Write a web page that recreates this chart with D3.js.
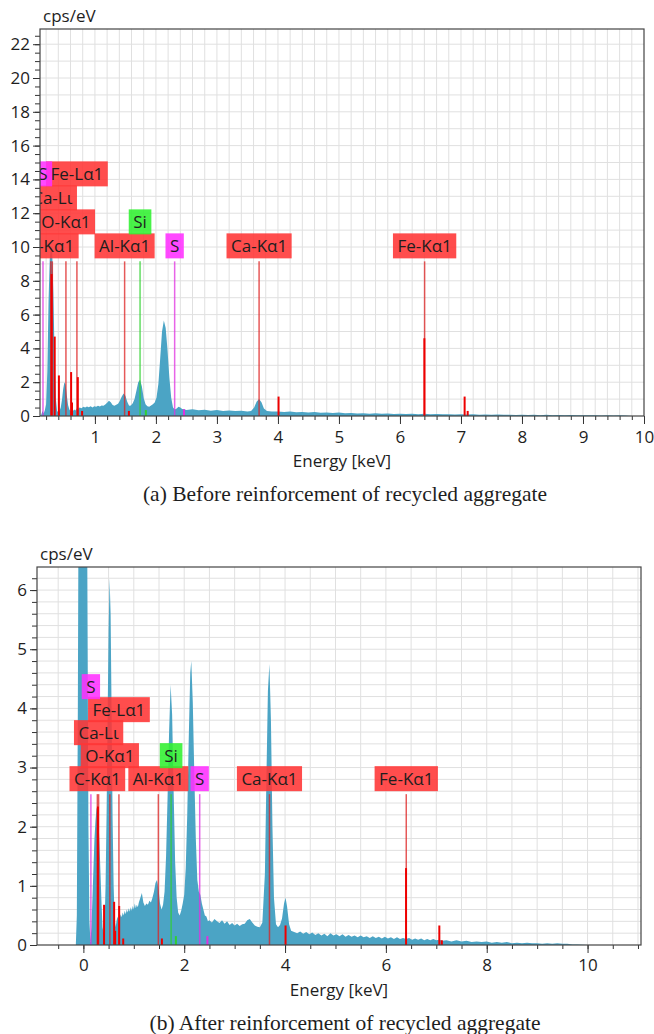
<!DOCTYPE html>
<html>
<head>
<meta charset="utf-8">
<script src="https://cdn.jsdelivr.net/npm/d3@7"></script>
<style>
body { margin: 0; background: #fff; }
svg text { font-family: "Open Sans", "DejaVu Sans", sans-serif; fill: #1e1e1e; }
.caption { font-family: "Liberation Serif", "Times New Roman", serif !important; }
</style>
</head>
<body>
<svg id="fig" width="654" height="1034"></svg>
<script>
// ---- panel (a): before reinforcement ----
const energyA = [0.10,0.12,0.14,0.16,0.18,0.20,0.22,0.24,0.26,0.28,0.30,0.32,0.34,0.36,0.38,0.40,0.42,0.44,0.46,0.48,
	0.50,0.52,0.54,0.56,0.58,0.60,0.62,0.64,0.66,0.68,0.70,0.72,0.75,0.78,0.81,0.84,0.87,0.90,0.93,0.96,0.99,
	1.02,1.05,1.08,1.11,1.14,1.17,1.20,1.23,1.26,1.29,1.32,1.35,1.38,1.41,1.44,1.47,1.50,1.53,1.56,1.59,1.62,
	1.65,1.68,1.71,1.74,1.77,1.80,1.83,1.86,1.89,1.92,1.95,1.98,2.01,2.04,2.07,2.10,2.13,2.16,2.19,2.22,2.25,
	2.28,2.31,2.34,2.37,2.40,2.43,2.46,2.50,2.6,2.7,2.8,2.9,3.0,3.1,3.2,3.3,3.4,3.5,3.56,3.61,3.65,3.69,3.73,
	3.77,3.82,3.9,4.0,4.1,4.2,4.3,4.4,4.5,4.6,4.7,4.8,4.9,5.0,5.1,5.2,5.3,5.4,5.5,5.6,5.7,5.8,5.9,6.0,6.1,6.2,
	6.3,6.4,6.5,6.6,6.7,6.8,6.9,7.0,7.1,7.2,7.3,7.4,7.5,7.6,7.7,7.8,7.9,8.0,8.1,8.2,8.3,8.4,8.5,8.6,8.7,8.8,
	8.9,9.0,9.1,9.2,9.3,9.4,9.5,9.6,9.7,9.75,9.8];
const cpsA = [0,0.08,0.3,0.15,0.35,0.7,2.6,6.8,9.3,10.1,9.7,7.2,3.3,1.0,0.3,0.22,0.3,0.5,0.95,1.6,
	2.0,1.85,1.2,0.65,0.4,0.28,0.35,0.3,0.38,0.33,0.45,0.42,0.5,0.46,0.55,0.5,0.56,0.52,0.58,0.5,0.57,
	0.55,0.6,0.56,0.62,0.6,0.68,0.78,0.9,0.82,0.65,0.6,0.66,0.72,0.9,1.15,1.33,1.2,0.85,0.6,0.62,0.75,
	1.0,1.5,2.0,2.15,1.75,1.05,0.7,0.58,0.55,0.62,0.7,0.8,1.1,1.9,3.4,5.0,5.65,5.2,3.9,2.3,1.1,
	0.5,0.38,0.45,0.55,0.5,0.42,0.4,0.36,0.4,0.34,0.37,0.31,0.35,0.3,0.33,0.29,0.31,0.27,0.3,0.5,0.85,1.0,0.82,
	0.45,0.3,0.26,0.27,0.24,0.27,0.22,0.24,0.2,0.23,0.19,0.21,0.18,0.2,0.16,0.18,0.15,0.17,0.14,0.16,0.13,0.15,0.12,0.14,0.12,0.13,
	0.11,0.13,0.1,0.12,0.1,0.11,0.09,0.11,0.09,0.1,0.08,0.09,0.07,0.09,0.07,0.08,0.06,0.08,0.06,0.07,0.05,0.07,0.05,0.06,0.05,0.06,
	0.04,0.05,0.04,0.05,0.03,0.05,0.03,0.04,0.03,0.01,0];

const peakLabelsA = ["C-Kα1","O-Kα1","Ca-Lι","Fe-Lα1","S","Al-Kα1","Si","S","Ca-Kα1","Fe-Kα1"];
const peakEnergyA = [0.277,0.525,0.302,0.705,0.149,1.487,1.740,2.307,3.691,6.404];
const peakElemA = ["C","O","Ca","Fe","S","Al","Si","S","Ca","Fe"];
const minorEnergyA = [0.29,0.341,0.41,0.61,0.625,0.72,0.79,1.557,1.835,2.46,4.01,6.40,7.06,7.11];
const minorHeightA = [8.4,4.7,2.4,2.6,0.8,2.3,0.3,0.3,0.35,0.4,1.15,4.6,1.15,0.3];
const minorElemA = ["C","Ca","Ca","O","Fe","Fe","Fe","Al","Si","S","Ca","Fe","Fe","Fe"];
const xTicksA = [1,2,3,4,5,6,7,8,9,10];
const yTicksA = [0,2,4,6,8,10,12,14,16,18,20,22];

// ---- panel (b): after reinforcement ----
const energyB = [-0.15,-0.13,-0.11,-0.09,-0.06,-0.03,0.00,0.03,0.06,0.08,0.10,0.12,0.14,0.16,0.18,0.20,0.22,0.24,0.26,0.28,
	0.30,0.32,0.34,0.36,0.38,0.40,0.42,0.44,0.46,0.48,0.50,0.52,0.54,0.56,0.58,0.60,0.62,0.64,0.66,0.68,
	0.70,0.72,0.74,0.76,0.78,0.80,0.82,0.84,0.86,0.88,0.90,0.92,0.94,0.96,0.98,1.00,1.02,1.04,1.06,1.08,
	1.10,1.13,1.16,1.19,1.22,1.25,1.28,1.31,1.34,1.37,1.40,1.43,1.46,1.49,1.52,1.55,1.58,1.61,1.64,1.67,
	1.70,1.73,1.76,1.79,1.82,1.85,1.88,1.91,1.94,1.97,2.00,2.03,2.06,2.09,2.12,2.14,2.17,2.20,2.23,2.26,
	2.29,2.32,2.35,2.38,2.41,2.44,2.47,2.50,2.55,2.60,2.65,2.70,2.75,2.80,2.85,2.90,2.95,3.00,3.05,3.10,
	3.15,3.20,3.25,3.30,3.35,3.40,3.45,3.50,3.55,3.60,3.63,3.66,3.69,3.72,3.75,3.78,3.82,3.86,3.90,3.94,
	3.98,4.01,4.04,4.08,4.12,4.18,4.24,4.30,4.36,4.42,4.48,4.54,4.60,4.66,4.72,4.78,4.84,4.90,4.96,5.02,
	5.08,5.14,5.20,5.26,5.32,5.38,5.44,5.50,5.56,5.62,5.68,5.74,5.80,5.86,5.92,5.98,6.04,6.10,6.16,6.22,
	6.28,6.34,6.40,6.46,6.52,6.58,6.64,6.70,6.76,6.82,6.88,6.94,7.00,7.06,7.12,7.20,7.30,7.40,7.50,7.60,
	7.70,7.80,7.90,8.00,8.10,8.20,8.30,8.40,8.50,8.60,8.70,8.80,8.90,9.00,9.10,9.20,9.30,9.40,9.50,9.60,
	9.70,9.80,9.90,10.0];
const cpsB = [0,0.5,4,9,13,15,15.5,14,10,6,2,0.4,0.05,0.3,0.8,1.3,1.8,2.1,2.3,2.35,
	2.1,1.7,1.2,0.7,0.3,0.2,0.35,1.0,2.2,3.8,5.3,6.2,5.6,3.9,2.1,1.0,0.45,0.3,0.42,0.48,
	0.38,0.45,0.52,0.47,0.55,0.5,0.58,0.52,0.6,0.55,0.62,0.56,0.64,0.58,0.66,0.6,0.7,0.62,0.68,0.64,
	0.72,0.8,0.88,0.72,0.66,0.7,0.68,0.75,0.72,0.8,0.9,1.05,1.1,0.95,0.7,0.6,0.68,0.9,1.5,2.5,
	3.6,4.4,3.9,2.6,1.4,0.8,0.55,0.5,0.58,0.7,0.85,1.3,2.2,3.5,4.6,4.8,4.1,2.9,1.8,1.1,
	0.9,0.85,0.7,0.6,0.5,0.48,0.4,0.42,0.38,0.44,0.4,0.37,0.42,0.36,0.4,0.34,0.37,0.33,0.36,0.32,
	0.35,0.36,0.42,0.44,0.38,0.33,0.31,0.3,0.38,1.2,2.8,4.3,4.75,3.8,2.0,0.8,0.35,0.3,0.34,0.45,
	0.7,0.8,0.65,0.35,0.24,0.22,0.2,0.23,0.19,0.22,0.18,0.21,0.17,0.2,0.16,0.19,0.15,0.2,0.16,0.18,
	0.15,0.18,0.14,0.17,0.14,0.16,0.13,0.16,0.13,0.15,0.12,0.15,0.12,0.14,0.11,0.14,0.11,0.13,0.1,0.13,
	0.1,0.12,0.1,0.12,0.09,0.11,0.09,0.11,0.08,0.1,0.08,0.1,0.08,0.09,0.07,0.08,0.06,0.08,0.06,0.07,
	0.05,0.06,0.05,0.06,0.04,0.05,0.04,0.05,0.03,0.04,0.03,0.04,0.03,0.03,0.02,0.03,0.02,0.03,0.02,0.02,
	0.01,0.01,0.005,0];

const peakLabelsB = peakLabelsA;
const peakEnergyB = peakEnergyA;
const peakElemB = peakElemA;
const minorEnergyB = [0.288,0.41,0.61,0.63,0.71,0.79,1.557,1.835,2.46,4.01,6.40,7.06,7.11];
const minorHeightB = [2.34,0.68,0.73,0.24,0.66,0.11,0.11,0.15,0.15,0.33,1.3,0.33,0.08];
const minorElemB = ["C","Ca","O","Fe","Fe","Fe","Al","Si","S","Ca","Fe","Fe","Fe"];
const xTicksB = [0,2,4,6,8,10];
const yTicksB = [0,1,2,3,4,5,6];

const boxColor = { S: "#ff30ff", Si: "#30f030" };
const lineColor = { S: "#e030e0", Si: "#30d030" };
const redBox = "#ff3434", redLine = "#d22";

const fig = d3.select("#fig");

function drawPanel(p) {
	const x = d3.scaleLinear().domain(p.xDomain).range([p.left, p.right]);
	const y = d3.scaleLinear().domain(p.yDomain).range([p.bottom, p.top]);
	const g = fig.append("g");

	g.append("clipPath").attr("id", p.id + "-clip")
		.append("rect")
		.attr("x", p.left).attr("y", p.top)
		.attr("width", p.right - p.left).attr("height", p.bottom - p.top);

	// grid
	g.append("g").selectAll("line")
		.data(p.xGrid).enter().append("line")
		.attr("x1", d => x(d)).attr("x2", d => x(d))
		.attr("y1", p.top).attr("y2", p.bottom)
		.style("stroke", "#e0e0e0");
	g.append("g").selectAll("line")
		.data(p.yGrid).enter().append("line")
		.attr("x1", p.left).attr("x2", p.right)
		.attr("y1", d => y(d)).attr("y2", d => y(d))
		.style("stroke", "#e0e0e0");

	const plot = g.append("g").attr("clip-path", "url(#" + p.id + "-clip)");

	// spectrum
	const pts = p.energy.map((e, i) => ({ e: e, v: p.cps[i] }));
	const area = d3.area()
		.x(d => x(d.e))
		.y0(y(0))
		.y1(d => y(d.v));
	plot.append("path")
		.attr("d", area(pts))
		.style("fill", "#4ba4c5")
		.style("stroke", "none");

	// tall marker lines
	plot.selectAll("line.peak")
		.data(p.peakEnergy).enter().append("line")
		.attr("class", "peak")
		.attr("x1", d => x(d)).attr("x2", d => x(d))
		.attr("y1", y(0)).attr("y2", y(p.lineTop))
		.style("stroke", (d, i) => lineColor[p.peakElem[i]] || redLine)
		.style("stroke-opacity", 0.75)
		.style("stroke-width", 1.5);

	// short family lines
	plot.selectAll("line.minor")
		.data(p.minorEnergy).enter().append("line")
		.attr("class", "minor")
		.attr("x1", d => x(d)).attr("x2", d => x(d))
		.attr("y1", y(0)).attr("y2", (d, i) => y(p.minorHeight[i]))
		.style("stroke", (d, i) => lineColor[p.minorElem[i]] || "#e00")
		.style("stroke-width", 2);

	// labels
	const boxBottom = y(p.lineTop) - 3;
	const labels = plot.selectAll("g.lab")
		.data(p.peakLabels).enter().append("g")
		.attr("class", "lab");
	labels.append("rect");
	labels.append("text")
		.attr("x", (d, i) => x(p.peakEnergy[i]))
		.attr("y", (d, i) => boxBottom - p.rows[i] * p.rowStep - 12.5)
		.attr("dy", "0.36em")
		.attr("text-anchor", "middle")
		.style("font-size", "17px")
		.text(d => d);
	labels.each(function (d, i) {
		const t = d3.select(this).select("text");
		const w = t.node().getComputedTextLength() + 9;
		d3.select(this).select("rect")
			.attr("x", x(p.peakEnergy[i]) - w / 2)
			.attr("y", boxBottom - p.rows[i] * p.rowStep - 25)
			.attr("width", w).attr("height", 25)
			.style("fill", boxColor[d] || redBox)
			.style("fill-opacity", 0.88);
	});

	// axes
	const xMinor = d3.axisBottom(x).tickValues(p.xMinor).tickSize(4).tickFormat("");
	const xMajor = d3.axisBottom(x).tickValues(p.xMajor).tickSize(8).tickFormat(d3.format("d"));
	const yMinor = d3.axisLeft(y).tickValues(p.yMinor).tickSize(5).tickFormat("");
	const yMajor = d3.axisLeft(y).tickValues(p.yMajor).tickSize(7).tickPadding(3).tickFormat(d3.format("d"));

	[xMinor, xMajor].forEach(ax => {
		g.append("g").attr("transform", "translate(0," + p.bottom + ")").call(ax)
			.call(s => s.select(".domain").remove())
			.call(s => s.selectAll("line").style("stroke", "#333"))
			.call(s => s.selectAll("text").attr("y", p.xLabelOffset).attr("dy", 0)
				.style("font-size", "17px").style("font-family", null));
	});
	[yMinor, yMajor].forEach(ax => {
		g.append("g").attr("transform", "translate(" + p.left + ",0)").call(ax)
			.call(s => s.select(".domain").remove())
			.call(s => s.selectAll("line").style("stroke", "#333"))
			.call(s => s.selectAll("text").style("font-size", "17px").style("font-family", null));
	});

	g.append("rect")
		.attr("x", p.left).attr("y", p.top)
		.attr("width", p.right - p.left).attr("height", p.bottom - p.top)
		.style("fill", "none").style("stroke", "#444").style("stroke-width", 1.2);

	g.append("text").attr("x", p.left + 3).attr("y", p.top - 7)
		.style("font-size", "17px").text("cps/eV");
	g.append("text").attr("x", (p.left + p.right) / 2).attr("y", p.bottom + 51)
		.attr("text-anchor", "middle").style("font-size", "17px").text("Energy [keV]");
	g.append("text").attr("class", "caption")
		.attr("x", 345).attr("y", p.captionY)
		.attr("text-anchor", "middle").style("font-size", "21.5px").text(p.caption);
}

drawPanel({
	id: "a", energy: energyA, cps: cpsA,
	xDomain: [0.1, 10], yDomain: [0, 22.9],
	left: 40, right: 644, top: 29, bottom: 416,
	xMinor: d3.range(1, 50).map(d => d / 5),
	xMajor: xTicksA,
	yMinor: d3.range(0, 46).map(d => d / 2),
	yMajor: yTicksA,
	xGrid: d3.range(1, 50).map(d => d / 5),
	yGrid: d3.range(1, 23),
	peakLabels: peakLabelsA, peakEnergy: peakEnergyA, peakElem: peakElemA,
	minorEnergy: minorEnergyA, minorHeight: minorHeightA, minorElem: minorElemA,
	rows: [0, 1, 2, 3, 3, 0, 1, 0, 0, 0], rowStep: 24, lineTop: 9.15,
	xLabelOffset: 27,
	caption: "(a) Before reinforcement of recycled aggregate", captionY: 501
});

drawPanel({
	id: "b", energy: energyB, cps: cpsB,
	xDomain: [-0.92, 11.06], yDomain: [0, 6.39],
	left: 37, right: 641, top: 567, bottom: 945,
	xMinor: d3.range(-1, 23).map(d => d / 2),
	xMajor: xTicksB,
	yMinor: d3.range(0, 32).map(d => d / 5),
	yMajor: yTicksB,
	xGrid: d3.range(-1, 23).map(d => d / 2),
	yGrid: d3.range(1, 32).map(d => d / 5),
	peakLabels: peakLabelsB, peakEnergy: peakEnergyB, peakElem: peakElemB,
	minorEnergy: minorEnergyB, minorHeight: minorHeightB, minorElem: minorElemB,
	rows: [0, 1, 2, 3, 4, 0, 1, 0, 0, 0], rowStep: 23, lineTop: 2.55,
	xLabelOffset: 26,
	caption: "(b) After reinforcement of recycled aggregate", captionY: 1030
});
</script>
</body>
</html>
